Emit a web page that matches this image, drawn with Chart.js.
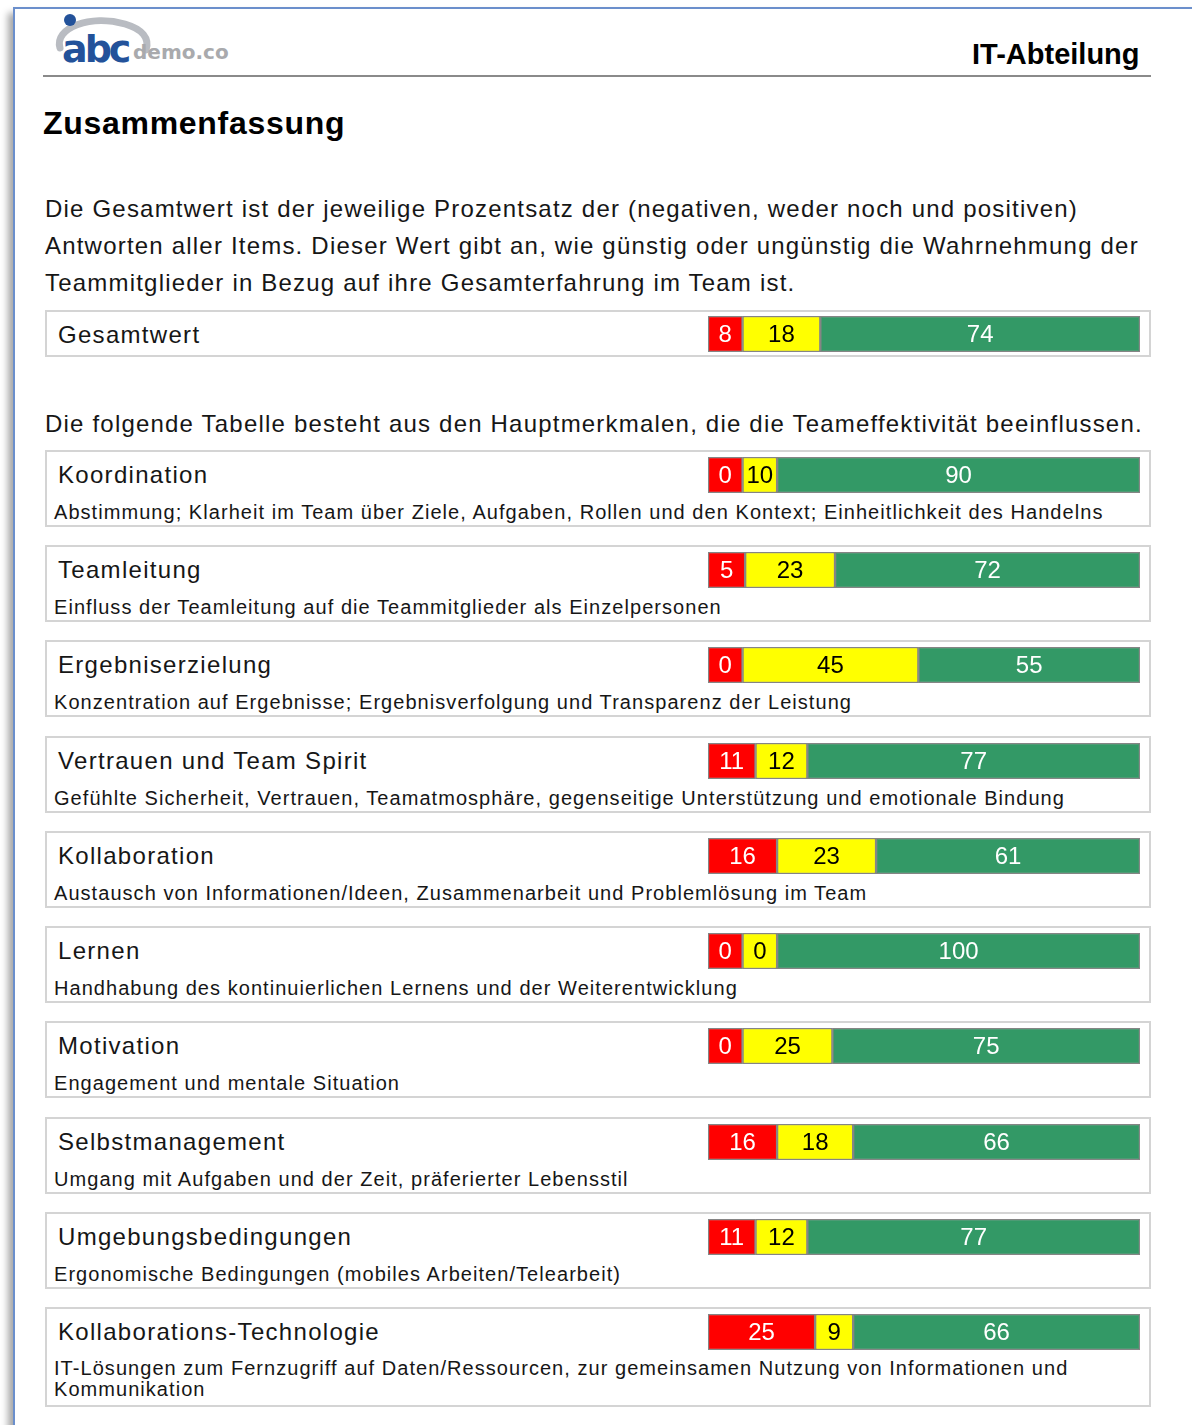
<!DOCTYPE html>
<html>
<head>
<meta charset="utf-8">
<script src="https://cdn.jsdelivr.net/npm/chart.js@4.4.1/dist/chart.umd.min.js"></script>
<style>
  body { margin: 0; width: 1192px; height: 1425px; overflow: hidden; background: #fff;
         font-family: "Liberation Sans", Arial, sans-serif; color: #161616; position: relative; }
  .page { position: absolute; left: 13px; top: 7px; width: 1300px; height: 1500px;
          border-left: 2px solid #6b8fcc; border-top: 2px solid #6b8fcc;
          box-shadow: -5px 6px 7px rgba(0,0,0,0.35); background: #fff; }
  .abs { position: absolute; white-space: nowrap; }
  .hline { position: absolute; left: 43px; width: 1108px; top: 75px; height: 2px; background: #8a8a8a; }
  .header { left: 972px; top: 38px; font-size: 29px; font-weight: bold; letter-spacing: 0px; color: #000; }
  .title { left: 43px; top: 105px; font-size: 32px; font-weight: bold; color: #000; letter-spacing: 0.7px; }
  .para { left: 45px; font-size: 24px; line-height: 37px; letter-spacing: 1.2px; }
  .box { position: absolute; left: 45px; width: 1106px; border: 2px solid #d4d4d4; box-sizing: border-box; }
  .label { position: absolute; left: 11px; font-size: 24px; letter-spacing: 1.3px; white-space: nowrap; }
  .desc { position: absolute; left: 7px; font-size: 20px; letter-spacing: 1.05px; white-space: nowrap; line-height: 21px; }
  canvas.bar { position: absolute; }
</style>
</head>
<body>
<div class="page"></div>

<svg class="abs" style="left:50px;top:8px" width="200" height="66" viewBox="0 0 200 66">
  <path d="M10 40 C 4 20, 40 6, 75 16 C 92 21, 100 30, 96 42" fill="none" stroke="#b9bcc2" stroke-width="7" stroke-linecap="round"/>
  <circle cx="20" cy="12" r="6" fill="#23529a"/>
  <text x="12" y="54" font-family="DejaVu Sans, sans-serif" font-size="38" font-weight="bold" fill="#23529a" letter-spacing="-3">abc</text>
  <text x="83" y="51" font-family="DejaVu Sans, sans-serif" font-size="20" font-weight="bold" fill="#a9aaad">demo.co</text>
</svg>

<div class="abs header">IT-Abteilung</div>
<div class="hline"></div>
<div class="abs title">Zusammenfassung</div>

<div class="abs para" style="top:190px">Die Gesamtwert ist der jeweilige Prozentsatz der (negativen, weder noch und positiven)<br>Antworten aller Items. Dieser Wert gibt an, wie günstig oder ungünstig die Wahrnehmung der<br>Teammitglieder in Bezug auf ihre Gesamterfahrung im Team ist.</div>
<div class="abs para" style="top:405px">Die folgende Tabelle besteht aus den Hauptmerkmalen, die die Teameffektivität beeinflussen.</div>

<div id="rows"></div>

<script>
const categories = ['Gesamtwert', 'Koordination', 'Teamleitung', 'Ergebniserzielung', 'Vertrauen und Team Spirit',
  'Kollaboration', 'Lernen', 'Motivation', 'Selbstmanagement', 'Umgebungsbedingungen', 'Kollaborations-Technologie'];
const descriptions = ['',
  'Abstimmung; Klarheit im Team über Ziele, Aufgaben, Rollen und den Kontext; Einheitlichkeit des Handelns',
  'Einfluss der Teamleitung auf die Teammitglieder als Einzelpersonen',
  'Konzentration auf Ergebnisse; Ergebnisverfolgung und Transparenz der Leistung',
  'Gefühlte Sicherheit, Vertrauen, Teamatmosphäre, gegenseitige Unterstützung und emotionale Bindung',
  'Austausch von Informationen/Ideen, Zusammenarbeit und Problemlösung im Team',
  'Handhabung des kontinuierlichen Lernens und der Weiterentwicklung',
  'Engagement und mentale Situation',
  'Umgang mit Aufgaben und der Zeit, präferierter Lebensstil',
  'Ergonomische Bedingungen (mobiles Arbeiten/Telearbeit)',
  'IT-Lösungen zum Fernzugriff auf Daten/Ressourcen, zur gemeinsamen Nutzung von Informationen und<br>Kommunikation'];

// shown percentages
const negative = [8, 0, 5, 0, 11, 16, 0, 0, 16, 11, 25];
const neutral  = [18, 10, 23, 45, 12, 23, 0, 25, 18, 12, 9];
const positive = [74, 90, 72, 55, 77, 61, 100, 75, 66, 77, 66];

// drawn segment lengths (percent of bar) (small values get a minimum width)
const negLen = [8, 8, 8.6, 8, 11, 16, 8, 8, 16, 11, 24.8];
const neuLen = [18, 8, 20.8, 40.7, 12, 22.9, 8, 20.8, 17.6, 12, 8.8];
const posLen = [74, 84, 70.6, 51.3, 77, 61.1, 84, 71.2, 66.4, 77, 66.4];

const boxTops = [310, 450, 545, 640, 736, 831, 926, 1021, 1117, 1212, 1307];

const valueLabels = {
  id: 'valueLabels',
  afterDatasetsDraw(chart) {
    const ctx = chart.ctx;
    ctx.save();
    ctx.font = '24px "Liberation Sans", Arial, sans-serif';
    ctx.textAlign = 'center';
    ctx.textBaseline = 'middle';
    chart.data.datasets.forEach((ds, i) => {
      const el = chart.getDatasetMeta(i).data[0];
      ctx.fillStyle = ds.textColor;
      ctx.fillText(ds.shown, (el.x + el.base) / 2, el.y + 1);
    });
    ctx.restore();
  }
};

const rows = document.getElementById('rows');
categories.forEach((cat, i) => {
  const top = boxTops[i];
  const last = i === categories.length - 1;
  const h = i === 0 ? 47 : (last ? 100 : 77);
  const box = document.createElement('div');
  box.className = 'box';
  box.style.top = top + 'px';
  box.style.height = h + 'px';
  box.innerHTML = '<div class="label" style="top:9px">' + cat + '</div>' +
    (descriptions[i] ? '<div class="desc" style="top:' + (last ? 49 : 50) + 'px">' + descriptions[i] + '</div>' : '');
  rows.appendChild(box);

  const cv = document.createElement('canvas');
  cv.className = 'bar';
  cv.width = 432; cv.height = 36;
  cv.style.left = '708px';
  cv.style.top = (top + (i === 0 ? 6 : 7)) + 'px';
  document.body.appendChild(cv);

  new Chart(cv, {
    type: 'bar',
    data: {
      labels: [cat],
      datasets: [
        { data: [negLen[i]], shown: negative[i], backgroundColor: '#ff0000', textColor: '#ffffff' },
        { data: [neuLen[i]], shown: neutral[i], backgroundColor: '#ffff00', textColor: '#000000' },
        { data: [posLen[i]], shown: positive[i], backgroundColor: '#339966', textColor: '#ffffff' }
      ]
    },
    options: {
      indexAxis: 'y',
      responsive: false,
      animation: false,
      layout: { padding: 0 },
      datasets: { bar: { barPercentage: 1, categoryPercentage: 1, borderWidth: 1.5, borderColor: '#858585', borderSkipped: false } },
      scales: {
        x: { stacked: true, display: false, min: 0, max: 100 },
        y: { stacked: true, display: false }
      },
      plugins: { legend: { display: false }, tooltip: { enabled: false } }
    },
    plugins: [valueLabels]
  });
});
</script>
</body>
</html>
